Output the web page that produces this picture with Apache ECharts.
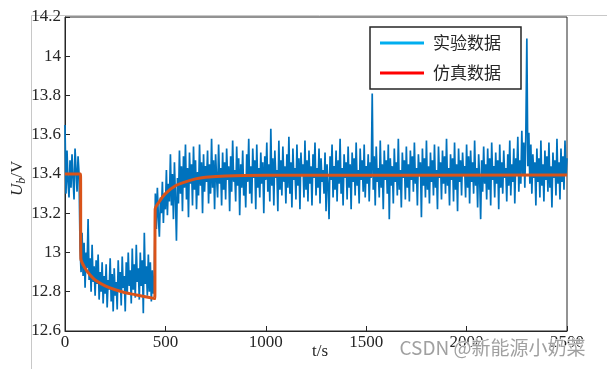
<!DOCTYPE html>
<html><head><meta charset="utf-8">
<script src="https://cdn.jsdelivr.net/npm/echarts@6/dist/echarts.min.js"></script>
<style>html,body{margin:0;padding:0;background:#fff}#c{width:607px;height:369px}</style>
</head><body><div id="c"></div>
<script>
// time step of experimental samples (s)
const expStep = 5;
const expSeg0 = [13.65,13.30,13.52,13.36,13.28,13.47,13.33,13.50,13.38,13.27,13.53,13.42,13.31,13.49,13.40];
const expSeg1 = [13.02,12.90,13.10,12.88,13.05,12.82,13.00,12.92,13.17,12.86,12.97,12.80,13.04,12.85,12.93,12.78,12.96,12.84,12.99,12.76,
12.90,12.80,12.95,12.74,12.88,12.79,12.94,12.72,12.86,12.81,12.97,12.75,12.89,12.70,12.92,12.78,12.85,12.71,12.96,12.80,
12.90,12.73,12.98,12.82,12.88,12.70,12.95,12.79,13.00,12.83,12.91,12.74,13.02,12.81,12.94,12.77,13.04,12.85,12.92,12.76,
13.00,12.83,12.96,12.69,13.10,12.84,12.93,12.78,12.99,12.80,12.95,12.75,12.91,12.79,12.88];
const expSeg2 = [13.30,13.12,13.33,13.18,13.08,13.28,13.20,13.36,13.15,13.30,13.22,13.42,13.19,13.35,13.26,13.50,13.24,13.40,13.17,13.46,
13.28,13.06,13.38,13.25,13.52,13.30,13.44,13.21,13.49,13.33,13.55,13.27,13.43,13.18,13.51,13.35,13.45,13.24,13.54,13.32,
13.47,13.22,13.41,13.29,13.55,13.34,13.46,13.20,13.50,13.31,13.44];
const expSeg3 = [
13.36,13.52,13.25,13.45,13.30,13.58,13.33,13.47,13.22,13.50,13.38,13.28,13.55,13.35,13.43,13.24,13.51,13.32,13.46,13.27,
13.53,13.37,13.44,13.21,13.49,13.31,13.57,13.36,13.42,13.26,13.54,13.34,13.48,13.19,13.45,13.33,13.52,13.29,13.40,13.23,
13.50,13.36,13.58,13.30,13.44,13.25,13.53,13.38,13.47,13.22,13.55,13.33,13.43,13.28,13.51,13.35,13.46,13.20,13.49,13.37,
13.56,13.31,13.45,13.26,13.63,13.34,13.48,13.24,13.52,13.38,13.42,13.21,13.57,13.32,13.47,13.29,13.54,13.36,13.44,13.25,
13.50,13.33,13.59,13.30,13.46,13.23,13.53,13.37,13.43,13.27,13.55,13.34,13.48,13.22,13.51,13.39,13.45,13.28,13.57,13.32,
13.47,13.26,13.52,13.35,13.44,13.24,13.50,13.38,13.56,13.29,13.43,13.33,13.53,13.25,13.48,13.36,13.42,13.30,13.51,13.21,
13.45,13.34,13.17,13.49,13.37,13.55,13.28,13.44,13.32,13.52,13.26,13.47,13.35,13.58,13.30,13.43,13.24,13.50,13.38,13.46,
13.27,13.54,13.33,13.45,13.22,13.51,13.36,13.48,13.29,13.56,13.34,13.42,13.25,13.53,13.37,13.47,13.31,13.55,13.28,13.44,
13.35,13.50,13.26,13.46,13.38,13.81,13.32,13.49,13.24,13.54,13.36,13.43,13.28,13.57,13.33,13.45,13.22,13.52,13.37,13.47,
13.30,13.55,13.17,13.48,13.34,13.44,13.25,13.53,13.36,13.46,13.29,13.58,13.32,13.42,13.23,13.51,13.38,13.47,13.27,13.54,
13.33,13.45,13.26,13.52,13.37,13.49,13.31,13.56,13.35,13.43,13.24,13.50,13.39,13.46,13.18,13.53,13.34,13.48,13.28,13.57,
13.32,13.44,13.25,13.51,13.36,13.47,13.29,13.55,13.33,13.42,13.22,13.54,13.38,13.46,13.27,13.52,13.35,13.49,13.30,13.58,
13.34,13.43,13.24,13.50,13.37,13.48,13.26,13.56,13.32,13.45,13.21,13.53,13.36,13.47,13.29,13.51,13.39,13.44,13.28,13.55,
13.33,13.49,13.25,13.52,13.36,13.46,13.30,13.57,13.34,13.43,13.23,13.50,13.38,13.17,13.47,13.31,13.54,13.35,13.45,13.27,
13.53,13.32,13.48,13.24,13.56,13.37,13.44,13.28,13.51,13.35,13.47,13.22,13.55,13.33,13.46,13.30,13.52,13.38,13.43,13.26,
13.50,13.34,13.57,13.29,13.45,13.36,13.53,13.25,13.48,13.39,13.59,13.31,13.47,13.35,13.62,13.40,13.56,13.33,13.60,14.09,
13.44,13.61,13.35,13.55,13.30,13.50,13.38,13.46,13.24,13.53,13.36,13.48,13.28,13.57,13.34,13.45,13.26,13.52,13.37,13.49,
13.31,13.56,13.33,13.44,13.23,13.51,13.38,13.47,13.29,13.58,13.35,13.46,13.27,13.53,13.36,13.49,13.32,13.57,13.40,13.48];
const expValues = expSeg0.concat(expSeg1, expSeg2, expSeg3);
const simTimes  = [0,77,79,100,125,150,200,250,300,350,400,447,449,470,500,550,600,650,700,800,1000,2500];
const simValues = [13.40,13.40,12.97,12.92,12.885,12.86,12.83,12.81,12.795,12.785,12.775,12.765,13.22,13.26,13.30,13.34,13.36,13.375,13.383,13.39,13.393,13.395];
const xTicks = [0,500,1000,1500,2000,2500];
const seriesNames = ['实验数据','仿真数据'];

const expData = expValues.map((v,i)=>[i*expStep, v]);
const simData = simTimes.map((t,i)=>[t, simValues[i]]);
const serif = '"Liberation Serif","Times New Roman",serif';

const chart = echarts.init(document.getElementById('c'), null, {renderer:'canvas'});
chart.setOption({
  animation:false,
  backgroundColor:'#fff',
  grid:{left:65,right:40,top:17,bottom:38,show:true,borderColor:'#262626',borderWidth:1,backgroundColor:'transparent'},
  xAxis:{type:'value',min:xTicks[0],max:xTicks[xTicks.length-1],interval:500,
    axisLine:{show:true,lineStyle:{color:'#262626',width:1}},
    axisTick:{show:true,inside:true,length:5,lineStyle:{color:'#262626'}},
    axisLabel:{color:'#262626',fontFamily:serif,fontSize:17,margin:3,formatter:v=>String(v)},
    splitLine:{show:false}},
  yAxis:{type:'value',min:12.6,max:14.2,interval:0.2,
    axisLine:{show:true,lineStyle:{color:'#262626',width:1}},
    axisTick:{show:true,inside:true,length:5,lineStyle:{color:'#262626'}},
    axisLabel:{color:'#262626',fontFamily:serif,fontSize:17,margin:4,formatter:v=>String(+v.toFixed(1))},
    splitLine:{show:false}},
  legend:{show:true,orient:'vertical',left:370,top:27,
    backgroundColor:'#fff',borderColor:'#262626',borderWidth:1.5,borderRadius:0,
    padding:[5,20,5,10],itemGap:8,itemWidth:44,itemHeight:3,icon:'rect',
    textStyle:{fontFamily:'"Noto Sans CJK SC",sans-serif',fontSize:17,color:'#262626',padding:[0,0,0,4],lineHeight:22},
    data:[{name:seriesNames[0],itemStyle:{color:'#00AEEF'}},{name:seriesNames[1],itemStyle:{color:'#FF0000'}}]},
  series:[
    {name:seriesNames[0],type:'line',data:expData,showSymbol:false,symbol:'none',
     lineStyle:{color:'#0072BD',width:1.7},itemStyle:{color:'#0072BD'},z:2},
    {name:seriesNames[1],type:'line',data:simData,showSymbol:false,symbol:'none',smooth:0.3,
     lineStyle:{color:'#D95319',width:3},itemStyle:{color:'#D95319'},z:3}
  ],
  graphic:[
    {type:'line',shape:{x1:31.5,y1:15.5,x2:607,y2:15.5},style:{stroke:'#c8c8c8',lineWidth:1},z:-1},
    {type:'line',shape:{x1:31.5,y1:15.5,x2:31.5,y2:369},style:{stroke:'#c8c8c8',lineWidth:1},z:-1},
    {type:'text',left:312,top:343,style:{text:'t/s',font:'17px '+serif,fill:'#262626'}},
    {type:'text',x:8,y:196,rotation:Math.PI/2,style:{
      text:'{u|U}{b|b}{v|/V}',fill:'#262626',
      rich:{u:{fontFamily:serif,fontSize:17,fontStyle:'italic',fill:'#262626'},
            b:{fontFamily:serif,fontSize:12,fontStyle:'italic',fill:'#262626',padding:[8,0,0,0]},
            v:{fontFamily:serif,fontSize:17,fill:'#262626'}}}},
    {type:'text',left:399,top:338,z:100,style:{text:'CSDN @新能源小奶菜',font:'19px "Noto Sans CJK SC",sans-serif',fill:'#a0a0a0',stroke:'#fff',lineWidth:1}}
  ]
});
</script></body></html>
